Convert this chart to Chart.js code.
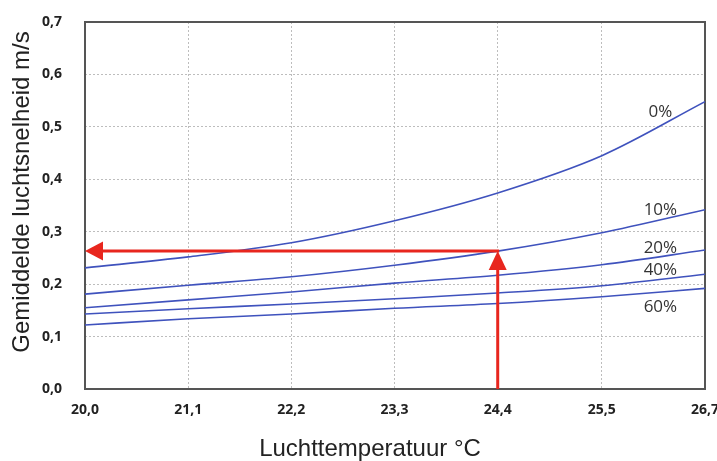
<!DOCTYPE html>
<html><head><meta charset="utf-8">
<script src="https://cdn.jsdelivr.net/npm/chart.js@4.4.1/dist/chart.umd.min.js"></script>
<style>html,body{margin:0;padding:0;background:#fff}#wrap{width:717px;height:461px;position:relative}</style>
</head><body><div id="wrap"><canvas id="c" width="717" height="461"></canvas></div>
<script>
// ---- data ----
const temps = [20.0, 21.11, 22.22, 23.33, 24.44, 25.56, 26.67];
const xTickLabels = ['20,0', '21,1', '22,2', '23,3', '24,4', '25,5', '26,7'];
const seriesNames = ['0%', '10%', '20%', '40%', '60%'];
const rh0  = [0.231, 0.252, 0.279, 0.321, 0.374, 0.445, 0.548];
const rh10 = [0.181, 0.198, 0.214, 0.236, 0.263, 0.298, 0.342];
const rh20 = [0.155, 0.170, 0.185, 0.202, 0.217, 0.237, 0.265];
const rh40 = [0.143, 0.153, 0.162, 0.172, 0.183, 0.197, 0.219];
const rh60 = [0.122, 0.134, 0.143, 0.154, 0.163, 0.176, 0.192];
const arrowTemp = 24.44;
const arrowSpeed = 0.263;
const xTitle = 'Luchttemperatuur °C';
const yTitle = 'Gemiddelde luchtsnelheid m/s';

const allSeries = [rh0, rh10, rh20, rh40, rh60];
const lineColor = '#3f52bd';
const red = '#e8261e';

const labelAnchors = {temp: 26.19, speeds: [0.528, 0.341, 0.269, 0.227, 0.156]};

const decor = {
  id: 'decor',
  beforeDatasetsDraw(chart) {
    const {ctx, chartArea: a} = chart;
    ctx.save();
    ctx.strokeStyle = '#555';
    ctx.lineWidth = 2;
    ctx.strokeRect(a.left, a.top, a.right - a.left, a.bottom - a.top);
    ctx.restore();
  },
  afterDatasetsDraw(chart) {
    const {ctx, scales: {x, y}} = chart;
    const px = x.getPixelForValue(arrowTemp);
    const py = y.getPixelForValue(arrowSpeed);
    const p0 = y.getPixelForValue(0);
    const pl = x.getPixelForValue(temps[0]);
    ctx.save();
    ctx.strokeStyle = red; ctx.fillStyle = red; ctx.lineWidth = 3;
    // vertical
    ctx.beginPath(); ctx.moveTo(px, p0); ctx.lineTo(px, py + 14); ctx.stroke();
    ctx.beginPath(); ctx.moveTo(px, py); ctx.lineTo(px - 9, py + 19); ctx.lineTo(px + 9, py + 19); ctx.closePath(); ctx.fill();
    // horizontal
    ctx.beginPath(); ctx.moveTo(px + 1.5, py); ctx.lineTo(pl + 14, py); ctx.stroke();
    ctx.beginPath(); ctx.moveTo(pl, py); ctx.lineTo(pl + 18, py - 9.5); ctx.lineTo(pl + 18, py + 9.5); ctx.closePath(); ctx.fill();
    // series labels
    ctx.fillStyle = '#333';
    ctx.font = '17px "Open Sans"';
    ctx.textAlign = 'center'; ctx.textBaseline = 'middle';
    seriesNames.forEach((n, i) => {
      ctx.fillText(n, x.getPixelForValue(labelAnchors.temp), y.getPixelForValue(labelAnchors.speeds[i]));
    });
    // axis titles
    ctx.fillStyle = '#222';
    ctx.font = '24px "Liberation Sans"';
    ctx.fillText(xTitle, 370, 449);
    ctx.translate(22, 192);
    ctx.rotate(-Math.PI / 2);
    ctx.fillText(yTitle, 0, 0);
    ctx.restore();
  }
};

new Chart(document.getElementById('c'), {
  type: 'line',
  data: {
    datasets: allSeries.map((s, i) => ({
      label: seriesNames[i],
      data: s.map((v, j) => ({x: temps[j], y: v})),
      borderColor: lineColor,
      borderWidth: 1.6,
      pointRadius: 0,
      fill: false,
      cubicInterpolationMode: 'monotone'
    }))
  },
  options: {
    responsive: false,
    devicePixelRatio: 1,
    animation: false,
    layout: {padding: {top: 22, right: 12, left: 0, bottom: 0}},
    plugins: {legend: {display: false}, tooltip: {enabled: false}},
    scales: {
      x: {
        type: 'linear',
        min: temps[0], max: temps[temps.length - 1],
        afterBuildTicks: s => { s.ticks = temps.map(v => ({value: v})); },
        afterFit: s => { s.height = 72; s.paddingRight = 0; s.paddingLeft = 0; },
        grid: {color: '#bdbdbd', lineWidth: 1, drawTicks: false},
        border: {display: false, dash: [2, 2]},
        ticks: {
          padding: 13, color: '#222', maxRotation: 0, autoSkip: false,
          font: {family: '"Open Sans"', size: 14, weight: 'bold'},
          callback: (v, i) => xTickLabels[i]
        }
      },
      y: {
        min: 0, max: 0.7,
        afterFit: s => { s.width = 85; s.paddingTop = 0; s.paddingBottom = 0; },
        grid: {color: '#bdbdbd', lineWidth: 1, drawTicks: false},
        border: {display: false, dash: [2, 2]},
        ticks: {
          stepSize: 0.1, padding: 23, color: '#222',
          font: {family: '"Open Sans"', size: 14, weight: 'bold'},
          callback: v => v.toFixed(1).replace('.', ',')
        }
      }
    }
  },
  plugins: [decor]
});
</script>
</body></html>
